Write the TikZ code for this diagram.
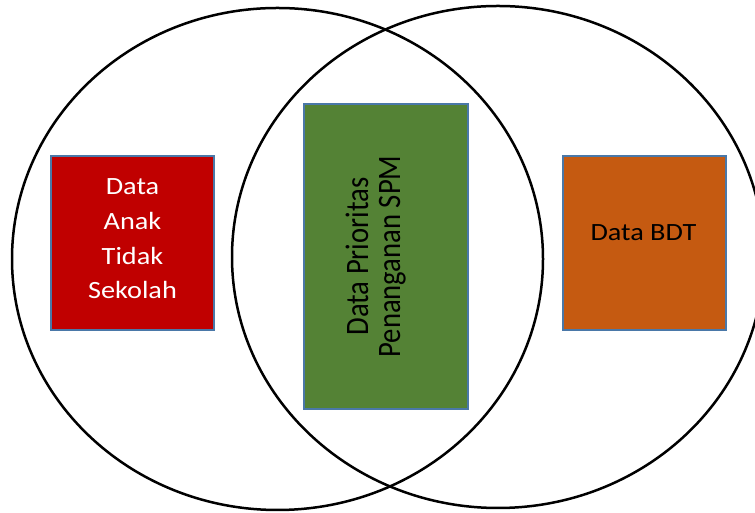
\documentclass[tikz,border=0pt]{standalone}
\usepackage{fontspec}
\setmainfont{Carlito}
\definecolor{redbox}{HTML}{C00000}
\definecolor{greenbox}{HTML}{548235}
\definecolor{orangebox}{HTML}{C55A11}
\definecolor{boxline}{HTML}{4A78A8}
\begin{document}
\begin{tikzpicture}[x=1pt,y=1pt,
  setring/.style={draw=black,line width=2.5pt},
  databox/.style={draw=boxline,line width=1.8pt,inner sep=0pt},
  boxtext/.style={inner sep=0pt,align=center,font=\fontsize{24.8}{34.7}\selectfont}]
\useasboundingbox (0,0) rectangle (755,513);
\node[databox,fill=redbox,minimum width=163pt,minimum height=174pt] (anak) at (132.5,270) {};
\node[databox,fill=greenbox,minimum width=164pt,minimum height=305pt] (prior) at (386,256.5) {};
\node[databox,fill=orangebox,minimum width=163pt,minimum height=174pt] (bdt) at (644.5,270) {};
\node[boxtext,text=white] (anaktext) at (132.5,273) {\scalebox{1.14}[1]{\begin{tabular}{@{}c@{}}Data\\Anak\\Tidak\\Sekolah\end{tabular}}};
\node[boxtext,text=black] (priortext) at (377.6,256.5) {\scalebox{1.14}[1]{\rotatebox{90}{\fontsize{28.7}{28}\selectfont\begin{tabular}{@{}c@{}}Data Prioritas\\Penanganan SPM\end{tabular}}}};
\node[boxtext,text=black] (bdttext) at (643.5,280) {\scalebox{1.14}[1]{Data BDT}};
\draw[setring] (277.5,254) ellipse [x radius=265.5, y radius=251];
\draw[setring] (498,256) ellipse [x radius=266, y radius=251];
\end{tikzpicture}
\end{document}
